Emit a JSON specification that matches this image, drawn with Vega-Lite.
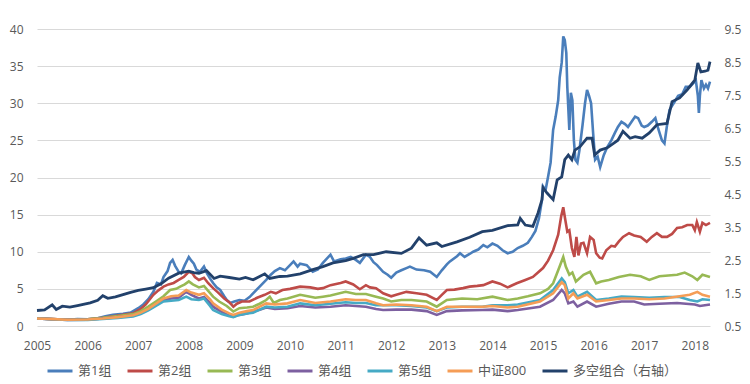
{"$schema":"https://vega.github.io/schema/vega-lite/v6.json","width":673,"height":297,"autosize":{"type":"none"},"padding":{"left":37,"top":29,"right":40,"bottom":58},"background":"white",
"config":{"view":{"stroke":null},"font":"Open Sans, Noto Sans CJK SC","axis":{"labelColor":"#595959","labelFontSize":12,"labelFontWeight":"normal","domain":false,"ticks":false,"gridColor":"#D9D9D9","gridWidth":1},"legend":{"labelColor":"#595959","labelFontSize":13}},
"data":{"values":[
{"s":"第1组","t":2005.0,"v":1.0},{"s":"第1组","t":2005.2,"v":0.95},{"s":"第1组","t":2005.4,"v":0.88},{"s":"第1组","t":2005.6,"v":0.85},{"s":"第1组","t":2005.8,"v":0.92},{"s":"第1组","t":2006.0,"v":0.9},{"s":"第1组","t":2006.2,"v":1.05},{"s":"第1组","t":2006.35,"v":1.3},{"s":"第1组","t":2006.5,"v":1.5},{"s":"第1组","t":2006.7,"v":1.65},{"s":"第1组","t":2006.85,"v":1.8},{"s":"第1组","t":2007.0,"v":2.4},{"s":"第1组","t":2007.1,"v":2.9},{"s":"第1组","t":2007.2,"v":3.6},{"s":"第1组","t":2007.3,"v":4.6},{"s":"第1组","t":2007.37,"v":5.8},{"s":"第1组","t":2007.45,"v":5.6},{"s":"第1组","t":2007.5,"v":6.6},{"s":"第1组","t":2007.58,"v":7.4},{"s":"第1组","t":2007.63,"v":8.5},{"s":"第1组","t":2007.68,"v":8.9},{"s":"第1组","t":2007.73,"v":8.1},{"s":"第1组","t":2007.8,"v":7.3},{"s":"第1组","t":2007.85,"v":7.1},{"s":"第1组","t":2007.92,"v":8.2},{"s":"第1组","t":2008.0,"v":9.3},{"s":"第1组","t":2008.05,"v":8.8},{"s":"第1组","t":2008.1,"v":8.4},{"s":"第1组","t":2008.15,"v":7.6},{"s":"第1组","t":2008.22,"v":7.3},{"s":"第1组","t":2008.3,"v":8.0},{"s":"第1组","t":2008.36,"v":7.1},{"s":"第1组","t":2008.42,"v":6.4},{"s":"第1组","t":2008.48,"v":5.8},{"s":"第1组","t":2008.55,"v":5.2},{"s":"第1组","t":2008.62,"v":4.85},{"s":"第1组","t":2008.7,"v":4.0},{"s":"第1组","t":2008.75,"v":3.5},{"s":"第1组","t":2008.82,"v":3.1},{"s":"第1组","t":2008.9,"v":3.3},{"s":"第1组","t":2009.0,"v":3.5},{"s":"第1组","t":2009.1,"v":3.4},{"s":"第1组","t":2009.2,"v":3.9},{"s":"第1组","t":2009.27,"v":4.4},{"s":"第1组","t":2009.4,"v":5.3},{"s":"第1组","t":2009.53,"v":6.2},{"s":"第1组","t":2009.62,"v":6.9},{"s":"第1组","t":2009.7,"v":7.4},{"s":"第1组","t":2009.8,"v":7.8},{"s":"第1组","t":2009.9,"v":7.5},{"s":"第1组","t":2010.0,"v":8.2},{"s":"第1组","t":2010.07,"v":8.7},{"s":"第1组","t":2010.15,"v":8.0},{"s":"第1组","t":2010.2,"v":8.4},{"s":"第1组","t":2010.33,"v":8.2},{"s":"第1组","t":2010.45,"v":7.3},{"s":"第1组","t":2010.55,"v":7.6},{"s":"第1组","t":2010.65,"v":8.5},{"s":"第1组","t":2010.8,"v":9.6},{"s":"第1组","t":2010.87,"v":8.7},{"s":"第1组","t":2011.0,"v":9.0},{"s":"第1组","t":2011.1,"v":9.1},{"s":"第1组","t":2011.2,"v":9.3},{"s":"第1组","t":2011.3,"v":8.9},{"s":"第1组","t":2011.38,"v":8.5},{"s":"第1组","t":2011.5,"v":9.6},{"s":"第1组","t":2011.58,"v":9.3},{"s":"第1组","t":2011.65,"v":8.6},{"s":"第1组","t":2011.72,"v":8.2},{"s":"第1组","t":2011.84,"v":7.3},{"s":"第1组","t":2011.93,"v":6.9},{"s":"第1组","t":2012.0,"v":6.5},{"s":"第1组","t":2012.1,"v":7.2},{"s":"第1组","t":2012.2,"v":7.5},{"s":"第1组","t":2012.3,"v":7.8},{"s":"第1组","t":2012.37,"v":8.0},{"s":"第1组","t":2012.5,"v":7.6},{"s":"第1组","t":2012.65,"v":7.5},{"s":"第1组","t":2012.77,"v":7.3},{"s":"第1组","t":2012.9,"v":6.6},{"s":"第1组","t":2013.0,"v":7.5},{"s":"第1组","t":2013.1,"v":8.3},{"s":"第1组","t":2013.16,"v":8.7},{"s":"第1组","t":2013.3,"v":9.4},{"s":"第1组","t":2013.36,"v":9.8},{"s":"第1组","t":2013.45,"v":9.3},{"s":"第1组","t":2013.55,"v":9.7},{"s":"第1组","t":2013.62,"v":10.0},{"s":"第1组","t":2013.72,"v":10.3},{"s":"第1组","t":2013.82,"v":10.9},{"s":"第1组","t":2013.9,"v":10.6},{"s":"第1组","t":2014.0,"v":11.1},{"s":"第1组","t":2014.1,"v":10.8},{"s":"第1组","t":2014.2,"v":10.2},{"s":"第1组","t":2014.3,"v":9.8},{"s":"第1组","t":2014.4,"v":10.0},{"s":"第1组","t":2014.5,"v":10.5},{"s":"第1组","t":2014.6,"v":10.8},{"s":"第1组","t":2014.7,"v":11.2},{"s":"第1组","t":2014.78,"v":12.0},{"s":"第1组","t":2014.85,"v":12.8},{"s":"第1组","t":2014.92,"v":14.5},{"s":"第1组","t":2014.98,"v":17.0},{"s":"第1组","t":2015.0,"v":18.8},{"s":"第1组","t":2015.05,"v":18.3},{"s":"第1组","t":2015.1,"v":20.1},{"s":"第1组","t":2015.15,"v":22.0},{"s":"第1组","t":2015.2,"v":26.4},{"s":"第1组","t":2015.25,"v":28.2},{"s":"第1组","t":2015.3,"v":30.4},{"s":"第1组","t":2015.33,"v":33.5},{"s":"第1组","t":2015.37,"v":35.5},{"s":"第1组","t":2015.4,"v":39.0},{"s":"第1组","t":2015.43,"v":38.5},{"s":"第1组","t":2015.46,"v":36.8},{"s":"第1组","t":2015.48,"v":32.2},{"s":"第1组","t":2015.52,"v":26.4},{"s":"第1组","t":2015.55,"v":31.4},{"s":"第1组","t":2015.58,"v":30.4},{"s":"第1组","t":2015.61,"v":25.0},{"s":"第1组","t":2015.64,"v":22.4},{"s":"第1组","t":2015.68,"v":22.0},{"s":"第1组","t":2015.72,"v":23.7},{"s":"第1组","t":2015.78,"v":27.0},{"s":"第1组","t":2015.83,"v":30.0},{"s":"第1组","t":2015.87,"v":31.8},{"s":"第1组","t":2015.91,"v":31.0},{"s":"第1组","t":2015.95,"v":30.0},{"s":"第1组","t":2015.99,"v":26.0},{"s":"第1组","t":2016.03,"v":22.4},{"s":"第1组","t":2016.08,"v":22.8},{"s":"第1组","t":2016.13,"v":21.4},{"s":"第1组","t":2016.2,"v":23.0},{"s":"第1组","t":2016.27,"v":24.1},{"s":"第1组","t":2016.35,"v":25.0},{"s":"第1组","t":2016.42,"v":26.0},{"s":"第1组","t":2016.48,"v":26.8},{"s":"第1组","t":2016.55,"v":27.5},{"s":"第1组","t":2016.62,"v":27.2},{"s":"第1组","t":2016.68,"v":26.8},{"s":"第1组","t":2016.75,"v":27.5},{"s":"第1组","t":2016.82,"v":28.2},{"s":"第1组","t":2016.88,"v":28.0},{"s":"第1组","t":2016.95,"v":27.0},{"s":"第1组","t":2017.0,"v":26.8},{"s":"第1组","t":2017.07,"v":27.0},{"s":"第1组","t":2017.15,"v":27.5},{"s":"第1组","t":2017.22,"v":28.0},{"s":"第1组","t":2017.28,"v":26.5},{"s":"第1组","t":2017.35,"v":25.0},{"s":"第1组","t":2017.4,"v":24.6},{"s":"第1组","t":2017.45,"v":27.0},{"s":"第1组","t":2017.5,"v":29.1},{"s":"第1组","t":2017.6,"v":30.2},{"s":"第1组","t":2017.67,"v":31.0},{"s":"第1组","t":2017.75,"v":31.2},{"s":"第1组","t":2017.82,"v":32.2},{"s":"第1组","t":2017.9,"v":32.2},{"s":"第1组","t":2017.97,"v":32.7},{"s":"第1组","t":2018.02,"v":33.1},{"s":"第1组","t":2018.06,"v":31.0},{"s":"第1组","t":2018.08,"v":28.7},{"s":"第1组","t":2018.1,"v":31.0},{"s":"第1组","t":2018.13,"v":33.1},{"s":"第1组","t":2018.18,"v":32.0},{"s":"第1组","t":2018.22,"v":32.5},{"s":"第1组","t":2018.26,"v":32.0},{"s":"第1组","t":2018.3,"v":32.9},
{"s":"第2组","t":2005.0,"v":1.0},{"s":"第2组","t":2005.3,"v":0.95},{"s":"第2组","t":2005.6,"v":0.85},{"s":"第2组","t":2006.0,"v":0.9},{"s":"第2组","t":2006.3,"v":1.1},{"s":"第2组","t":2006.6,"v":1.4},{"s":"第2组","t":2006.9,"v":1.7},{"s":"第2组","t":2007.05,"v":2.3},{"s":"第2组","t":2007.15,"v":2.9},{"s":"第2组","t":2007.3,"v":4.2},{"s":"第2组","t":2007.4,"v":4.8},{"s":"第2组","t":2007.5,"v":5.3},{"s":"第2组","t":2007.6,"v":5.6},{"s":"第2组","t":2007.7,"v":5.8},{"s":"第2组","t":2007.8,"v":6.2},{"s":"第2组","t":2007.9,"v":6.6},{"s":"第2组","t":2008.0,"v":7.3},{"s":"第2组","t":2008.07,"v":7.1},{"s":"第2组","t":2008.12,"v":6.6},{"s":"第2组","t":2008.2,"v":6.2},{"s":"第2组","t":2008.3,"v":6.5},{"s":"第2组","t":2008.38,"v":5.8},{"s":"第2组","t":2008.48,"v":5.1},{"s":"第2组","t":2008.58,"v":4.5},{"s":"第2组","t":2008.7,"v":3.7},{"s":"第2组","t":2008.8,"v":3.2},{"s":"第2组","t":2008.88,"v":2.6},{"s":"第2组","t":2008.95,"v":3.0},{"s":"第2组","t":2009.05,"v":3.3},{"s":"第2组","t":2009.2,"v":3.3},{"s":"第2组","t":2009.35,"v":3.8},{"s":"第2组","t":2009.5,"v":4.2},{"s":"第2组","t":2009.62,"v":4.6},{"s":"第2组","t":2009.72,"v":4.4},{"s":"第2组","t":2009.85,"v":4.85},{"s":"第2组","t":2010.0,"v":5.0},{"s":"第2组","t":2010.2,"v":5.3},{"s":"第2组","t":2010.4,"v":5.2},{"s":"第2组","t":2010.55,"v":5.0},{"s":"第2组","t":2010.65,"v":5.1},{"s":"第2组","t":2010.8,"v":5.5},{"s":"第2组","t":2011.0,"v":5.8},{"s":"第2组","t":2011.1,"v":6.0},{"s":"第2组","t":2011.25,"v":5.6},{"s":"第2组","t":2011.38,"v":4.95},{"s":"第2组","t":2011.5,"v":5.5},{"s":"第2组","t":2011.58,"v":5.2},{"s":"第2组","t":2011.7,"v":5.1},{"s":"第2组","t":2011.84,"v":4.4},{"s":"第2组","t":2012.0,"v":4.0},{"s":"第2组","t":2012.1,"v":4.2},{"s":"第2组","t":2012.3,"v":4.6},{"s":"第2组","t":2012.5,"v":4.4},{"s":"第2组","t":2012.7,"v":4.2},{"s":"第2组","t":2012.9,"v":3.5},{"s":"第2组","t":2013.0,"v":4.2},{"s":"第2组","t":2013.1,"v":4.85},{"s":"第2组","t":2013.25,"v":4.9},{"s":"第2组","t":2013.42,"v":5.1},{"s":"第2组","t":2013.55,"v":5.3},{"s":"第2组","t":2013.7,"v":5.4},{"s":"第2组","t":2013.82,"v":5.5},{"s":"第2组","t":2014.0,"v":6.0},{"s":"第2组","t":2014.15,"v":5.7},{"s":"第2组","t":2014.3,"v":5.2},{"s":"第2组","t":2014.48,"v":5.75},{"s":"第2组","t":2014.65,"v":6.2},{"s":"第2组","t":2014.8,"v":6.6},{"s":"第2组","t":2014.9,"v":7.2},{"s":"第2组","t":2015.0,"v":7.8},{"s":"第2组","t":2015.1,"v":8.8},{"s":"第2组","t":2015.2,"v":10.2},{"s":"第2组","t":2015.3,"v":12.3},{"s":"第2组","t":2015.36,"v":14.8},{"s":"第2组","t":2015.4,"v":16.0},{"s":"第2组","t":2015.44,"v":14.3},{"s":"第2组","t":2015.48,"v":12.7},{"s":"第2组","t":2015.52,"v":12.9},{"s":"第2组","t":2015.57,"v":10.5},{"s":"第2组","t":2015.62,"v":9.3},{"s":"第2组","t":2015.66,"v":12.0},{"s":"第2组","t":2015.7,"v":9.5},{"s":"第2组","t":2015.75,"v":11.1},{"s":"第2组","t":2015.8,"v":11.2},{"s":"第2组","t":2015.87,"v":9.8},{"s":"第2组","t":2015.93,"v":12.0},{"s":"第2组","t":2016.0,"v":11.6},{"s":"第2组","t":2016.05,"v":9.8},{"s":"第2组","t":2016.12,"v":9.2},{"s":"第2组","t":2016.17,"v":9.1},{"s":"第2组","t":2016.25,"v":10.2},{"s":"第2组","t":2016.35,"v":10.8},{"s":"第2组","t":2016.42,"v":10.7},{"s":"第2组","t":2016.5,"v":11.4},{"s":"第2组","t":2016.58,"v":12.0},{"s":"第2组","t":2016.7,"v":12.5},{"s":"第2组","t":2016.8,"v":12.2},{"s":"第2组","t":2016.93,"v":12.0},{"s":"第2组","t":2017.05,"v":11.35},{"s":"第2组","t":2017.15,"v":12.0},{"s":"第2组","t":2017.25,"v":12.5},{"s":"第2组","t":2017.35,"v":12.0},{"s":"第2组","t":2017.45,"v":12.0},{"s":"第2组","t":2017.55,"v":12.4},{"s":"第2组","t":2017.65,"v":13.2},{"s":"第2组","t":2017.75,"v":13.3},{"s":"第2组","t":2017.85,"v":13.6},{"s":"第2组","t":2017.95,"v":13.6},{"s":"第2组","t":2018.0,"v":12.9},{"s":"第2组","t":2018.04,"v":14.0},{"s":"第2组","t":2018.1,"v":12.7},{"s":"第2组","t":2018.15,"v":13.9},{"s":"第2组","t":2018.22,"v":13.6},{"s":"第2组","t":2018.3,"v":13.9},
{"s":"第3组","t":2005.0,"v":1.0},{"s":"第3组","t":2005.3,"v":0.95},{"s":"第3组","t":2005.6,"v":0.85},{"s":"第3组","t":2006.0,"v":0.9},{"s":"第3组","t":2006.3,"v":1.1},{"s":"第3组","t":2006.6,"v":1.35},{"s":"第3组","t":2006.9,"v":1.6},{"s":"第3组","t":2007.05,"v":2.0},{"s":"第3组","t":2007.2,"v":2.6},{"s":"第3组","t":2007.35,"v":3.3},{"s":"第3组","t":2007.5,"v":4.0},{"s":"第3组","t":2007.63,"v":4.85},{"s":"第3组","t":2007.75,"v":5.0},{"s":"第3组","t":2007.83,"v":5.3},{"s":"第3组","t":2007.92,"v":5.6},{"s":"第3组","t":2008.0,"v":6.0},{"s":"第3组","t":2008.08,"v":5.6},{"s":"第3组","t":2008.2,"v":5.2},{"s":"第3组","t":2008.3,"v":5.4},{"s":"第3组","t":2008.4,"v":4.6},{"s":"第3组","t":2008.48,"v":3.95},{"s":"第3组","t":2008.6,"v":3.3},{"s":"第3组","t":2008.75,"v":2.7},{"s":"第3组","t":2008.88,"v":1.95},{"s":"第3组","t":2009.0,"v":2.4},{"s":"第3组","t":2009.15,"v":2.5},{"s":"第3组","t":2009.27,"v":2.6},{"s":"第3组","t":2009.4,"v":3.0},{"s":"第3组","t":2009.53,"v":3.5},{"s":"第3组","t":2009.6,"v":3.95},{"s":"第3组","t":2009.68,"v":3.1},{"s":"第3组","t":2009.8,"v":3.5},{"s":"第3组","t":2009.95,"v":3.7},{"s":"第3组","t":2010.2,"v":4.2},{"s":"第3组","t":2010.35,"v":4.0},{"s":"第3组","t":2010.5,"v":3.8},{"s":"第3组","t":2010.65,"v":3.95},{"s":"第3组","t":2010.8,"v":4.1},{"s":"第3组","t":2011.1,"v":4.6},{"s":"第3组","t":2011.3,"v":4.3},{"s":"第3组","t":2011.5,"v":4.3},{"s":"第3组","t":2011.7,"v":3.95},{"s":"第3组","t":2011.84,"v":3.7},{"s":"第3组","t":2012.0,"v":3.3},{"s":"第3组","t":2012.2,"v":3.5},{"s":"第3组","t":2012.4,"v":3.5},{"s":"第3组","t":2012.7,"v":3.3},{"s":"第3组","t":2012.9,"v":2.6},{"s":"第3组","t":2013.1,"v":3.5},{"s":"第3组","t":2013.4,"v":3.7},{"s":"第3组","t":2013.7,"v":3.6},{"s":"第3组","t":2014.0,"v":3.95},{"s":"第3组","t":2014.3,"v":3.5},{"s":"第3组","t":2014.5,"v":3.7},{"s":"第3组","t":2014.7,"v":4.0},{"s":"第3组","t":2014.94,"v":4.4},{"s":"第3组","t":2015.1,"v":5.0},{"s":"第3组","t":2015.2,"v":5.75},{"s":"第3组","t":2015.3,"v":7.5},{"s":"第3组","t":2015.4,"v":9.3},{"s":"第3组","t":2015.45,"v":8.0},{"s":"第3组","t":2015.52,"v":6.9},{"s":"第3组","t":2015.58,"v":7.2},{"s":"第3组","t":2015.65,"v":6.0},{"s":"第3组","t":2015.8,"v":6.9},{"s":"第3组","t":2015.93,"v":7.3},{"s":"第3组","t":2016.05,"v":5.75},{"s":"第3组","t":2016.15,"v":6.0},{"s":"第3组","t":2016.3,"v":6.2},{"s":"第3组","t":2016.5,"v":6.6},{"s":"第3组","t":2016.72,"v":6.9},{"s":"第3组","t":2016.93,"v":6.7},{"s":"第3组","t":2017.1,"v":6.2},{"s":"第3组","t":2017.3,"v":6.7},{"s":"第3组","t":2017.65,"v":6.9},{"s":"第3组","t":2017.8,"v":7.2},{"s":"第3组","t":2017.95,"v":6.7},{"s":"第3组","t":2018.05,"v":6.2},{"s":"第3组","t":2018.15,"v":6.9},{"s":"第3组","t":2018.3,"v":6.6},
{"s":"第4组","t":2005.0,"v":1.0},{"s":"第4组","t":2005.3,"v":0.92},{"s":"第4组","t":2005.6,"v":0.82},{"s":"第4组","t":2006.0,"v":0.85},{"s":"第4组","t":2006.3,"v":1.0},{"s":"第4组","t":2006.6,"v":1.2},{"s":"第4组","t":2006.9,"v":1.4},{"s":"第4组","t":2007.05,"v":1.7},{"s":"第4组","t":2007.2,"v":2.2},{"s":"第4组","t":2007.35,"v":2.8},{"s":"第4组","t":2007.5,"v":3.5},{"s":"第4组","t":2007.65,"v":3.7},{"s":"第4组","t":2007.8,"v":3.8},{"s":"第4组","t":2007.95,"v":4.6},{"s":"第4组","t":2008.05,"v":4.2},{"s":"第4组","t":2008.2,"v":3.7},{"s":"第4组","t":2008.3,"v":3.9},{"s":"第4组","t":2008.42,"v":3.1},{"s":"第4组","t":2008.48,"v":2.6},{"s":"第4组","t":2008.65,"v":1.9},{"s":"第4组","t":2008.8,"v":1.4},{"s":"第4组","t":2008.88,"v":1.25},{"s":"第4组","t":2009.0,"v":1.5},{"s":"第4组","t":2009.15,"v":1.7},{"s":"第4组","t":2009.27,"v":1.95},{"s":"第4组","t":2009.4,"v":2.2},{"s":"第4组","t":2009.53,"v":2.5},{"s":"第4组","t":2009.7,"v":2.3},{"s":"第4组","t":2009.95,"v":2.4},{"s":"第4组","t":2010.2,"v":2.7},{"s":"第4组","t":2010.5,"v":2.5},{"s":"第4组","t":2010.8,"v":2.6},{"s":"第4组","t":2011.1,"v":2.8},{"s":"第4组","t":2011.3,"v":2.7},{"s":"第4组","t":2011.5,"v":2.6},{"s":"第4组","t":2011.7,"v":2.3},{"s":"第4组","t":2011.84,"v":2.15},{"s":"第4组","t":2012.1,"v":2.2},{"s":"第4组","t":2012.4,"v":2.2},{"s":"第4组","t":2012.7,"v":2.0},{"s":"第4组","t":2012.9,"v":1.5},{"s":"第4组","t":2013.1,"v":2.0},{"s":"第4组","t":2013.4,"v":2.1},{"s":"第4组","t":2013.8,"v":2.15},{"s":"第4组","t":2014.0,"v":2.2},{"s":"第4组","t":2014.3,"v":2.0},{"s":"第4组","t":2014.5,"v":2.15},{"s":"第4组","t":2014.94,"v":2.6},{"s":"第4组","t":2015.2,"v":3.5},{"s":"第4组","t":2015.37,"v":4.85},{"s":"第4组","t":2015.43,"v":4.4},{"s":"第4组","t":2015.5,"v":3.05},{"s":"第4组","t":2015.6,"v":3.3},{"s":"第4组","t":2015.68,"v":2.6},{"s":"第4组","t":2015.87,"v":3.3},{"s":"第4组","t":2016.05,"v":2.6},{"s":"第4组","t":2016.3,"v":3.0},{"s":"第4组","t":2016.55,"v":3.3},{"s":"第4组","t":2016.8,"v":3.3},{"s":"第4组","t":2017.0,"v":2.9},{"s":"第4组","t":2017.3,"v":3.0},{"s":"第4组","t":2017.65,"v":3.1},{"s":"第4组","t":2018.0,"v":2.9},{"s":"第4组","t":2018.1,"v":2.7},{"s":"第4组","t":2018.3,"v":2.9},
{"s":"第5组","t":2005.0,"v":1.0},{"s":"第5组","t":2005.3,"v":0.9},{"s":"第5组","t":2005.6,"v":0.8},{"s":"第5组","t":2006.0,"v":0.82},{"s":"第5组","t":2006.3,"v":0.95},{"s":"第5组","t":2006.6,"v":1.1},{"s":"第5组","t":2006.9,"v":1.3},{"s":"第5组","t":2007.05,"v":1.6},{"s":"第5组","t":2007.2,"v":2.1},{"s":"第5组","t":2007.35,"v":2.7},{"s":"第5组","t":2007.5,"v":3.3},{"s":"第5组","t":2007.65,"v":3.4},{"s":"第5组","t":2007.8,"v":3.5},{"s":"第5组","t":2007.95,"v":3.95},{"s":"第5组","t":2008.05,"v":3.6},{"s":"第5组","t":2008.2,"v":3.5},{"s":"第5组","t":2008.3,"v":3.7},{"s":"第5组","t":2008.42,"v":2.7},{"s":"第5组","t":2008.48,"v":2.15},{"s":"第5组","t":2008.65,"v":1.6},{"s":"第5组","t":2008.8,"v":1.3},{"s":"第5组","t":2008.88,"v":1.2},{"s":"第5组","t":2009.0,"v":1.5},{"s":"第5组","t":2009.15,"v":1.7},{"s":"第5组","t":2009.27,"v":1.8},{"s":"第5组","t":2009.4,"v":2.2},{"s":"第5组","t":2009.53,"v":2.6},{"s":"第5组","t":2009.7,"v":2.5},{"s":"第5组","t":2009.95,"v":2.6},{"s":"第5组","t":2010.2,"v":3.05},{"s":"第5组","t":2010.5,"v":2.8},{"s":"第5组","t":2010.8,"v":3.0},{"s":"第5组","t":2011.1,"v":3.2},{"s":"第5组","t":2011.3,"v":3.1},{"s":"第5组","t":2011.5,"v":3.1},{"s":"第5组","t":2011.7,"v":2.8},{"s":"第5组","t":2011.84,"v":2.8},{"s":"第5组","t":2012.1,"v":2.8},{"s":"第5组","t":2012.4,"v":2.7},{"s":"第5组","t":2012.7,"v":2.5},{"s":"第5组","t":2012.9,"v":2.0},{"s":"第5组","t":2013.1,"v":2.5},{"s":"第5组","t":2013.4,"v":2.6},{"s":"第5组","t":2013.8,"v":2.6},{"s":"第5组","t":2014.0,"v":2.8},{"s":"第5组","t":2014.3,"v":2.8},{"s":"第5组","t":2014.5,"v":2.9},{"s":"第5组","t":2014.94,"v":3.5},{"s":"第5组","t":2015.2,"v":4.85},{"s":"第5组","t":2015.37,"v":6.4},{"s":"第5组","t":2015.43,"v":5.9},{"s":"第5组","t":2015.5,"v":4.4},{"s":"第5组","t":2015.6,"v":4.85},{"s":"第5组","t":2015.68,"v":3.95},{"s":"第5组","t":2015.87,"v":4.6},{"s":"第5组","t":2016.05,"v":3.5},{"s":"第5组","t":2016.3,"v":3.7},{"s":"第5组","t":2016.55,"v":3.95},{"s":"第5组","t":2016.8,"v":3.9},{"s":"第5组","t":2017.1,"v":3.8},{"s":"第5组","t":2017.4,"v":3.9},{"s":"第5组","t":2017.7,"v":3.9},{"s":"第5组","t":2017.9,"v":3.5},{"s":"第5组","t":2018.05,"v":3.3},{"s":"第5组","t":2018.15,"v":3.6},{"s":"第5组","t":2018.3,"v":3.5},
{"s":"中证800","t":2005.0,"v":1.0},{"s":"中证800","t":2005.3,"v":0.92},{"s":"中证800","t":2005.6,"v":0.85},{"s":"中证800","t":2006.0,"v":0.88},{"s":"中证800","t":2006.3,"v":1.0},{"s":"中证800","t":2006.6,"v":1.2},{"s":"中证800","t":2006.9,"v":1.45},{"s":"中证800","t":2007.05,"v":1.8},{"s":"中证800","t":2007.2,"v":2.3},{"s":"中证800","t":2007.35,"v":3.0},{"s":"中证800","t":2007.5,"v":3.7},{"s":"中证800","t":2007.65,"v":4.0},{"s":"中证800","t":2007.8,"v":4.1},{"s":"中证800","t":2007.95,"v":4.85},{"s":"中证800","t":2008.05,"v":4.5},{"s":"中证800","t":2008.2,"v":4.2},{"s":"中证800","t":2008.3,"v":4.4},{"s":"中证800","t":2008.42,"v":3.6},{"s":"中证800","t":2008.48,"v":3.05},{"s":"中证800","t":2008.65,"v":2.2},{"s":"中证800","t":2008.8,"v":1.7},{"s":"中证800","t":2008.88,"v":1.5},{"s":"中证800","t":2009.0,"v":1.8},{"s":"中证800","t":2009.15,"v":2.0},{"s":"中证800","t":2009.27,"v":2.15},{"s":"中证800","t":2009.4,"v":2.6},{"s":"中证800","t":2009.53,"v":3.05},{"s":"中证800","t":2009.7,"v":2.9},{"s":"中证800","t":2009.95,"v":3.05},{"s":"中证800","t":2010.2,"v":3.5},{"s":"中证800","t":2010.5,"v":3.1},{"s":"中证800","t":2010.8,"v":3.3},{"s":"中证800","t":2011.1,"v":3.6},{"s":"中证800","t":2011.3,"v":3.5},{"s":"中证800","t":2011.5,"v":3.5},{"s":"中证800","t":2011.7,"v":3.05},{"s":"中证800","t":2011.84,"v":2.8},{"s":"中证800","t":2012.1,"v":2.9},{"s":"中证800","t":2012.4,"v":2.8},{"s":"中证800","t":2012.7,"v":2.6},{"s":"中证800","t":2012.9,"v":2.0},{"s":"中证800","t":2013.1,"v":2.6},{"s":"中证800","t":2013.4,"v":2.6},{"s":"中证800","t":2013.8,"v":2.6},{"s":"中证800","t":2014.0,"v":2.7},{"s":"中证800","t":2014.3,"v":2.5},{"s":"中证800","t":2014.5,"v":2.6},{"s":"中证800","t":2014.94,"v":3.3},{"s":"中证800","t":2015.2,"v":4.4},{"s":"中证800","t":2015.37,"v":5.9},{"s":"中证800","t":2015.43,"v":5.5},{"s":"中证800","t":2015.5,"v":3.7},{"s":"中证800","t":2015.6,"v":4.4},{"s":"中证800","t":2015.68,"v":3.7},{"s":"中证800","t":2015.87,"v":4.2},{"s":"中证800","t":2016.05,"v":3.3},{"s":"中证800","t":2016.3,"v":3.5},{"s":"中证800","t":2016.55,"v":3.7},{"s":"中证800","t":2016.8,"v":3.7},{"s":"中证800","t":2017.1,"v":3.6},{"s":"中证800","t":2017.4,"v":3.7},{"s":"中证800","t":2017.7,"v":4.0},{"s":"中证800","t":2017.9,"v":4.2},{"s":"中证800","t":2018.05,"v":4.6},{"s":"中证800","t":2018.15,"v":4.2},{"s":"中证800","t":2018.3,"v":3.95},
{"s":"多空组合（右轴）","t":2005.0,"v":0.97},{"s":"多空组合（右轴）","t":2005.15,"v":0.99},{"s":"多空组合（右轴）","t":2005.3,"v":1.14},{"s":"多空组合（右轴）","t":2005.38,"v":1.0},{"s":"多空组合（右轴）","t":2005.5,"v":1.1},{"s":"多空组合（右轴）","t":2005.65,"v":1.07},{"s":"多空组合（右轴）","t":2005.8,"v":1.12},{"s":"多空组合（右轴）","t":2006.05,"v":1.2},{"s":"多空组合（右轴）","t":2006.2,"v":1.28},{"s":"多空组合（右轴）","t":2006.3,"v":1.42},{"s":"多空组合（右轴）","t":2006.4,"v":1.34},{"s":"多空组合（右轴）","t":2006.55,"v":1.38},{"s":"多空组合（右轴）","t":2006.7,"v":1.45},{"s":"多空组合（右轴）","t":2006.85,"v":1.52},{"s":"多空组合（右轴）","t":2007.0,"v":1.58},{"s":"多空组合（右轴）","t":2007.15,"v":1.62},{"s":"多空组合（右轴）","t":2007.3,"v":1.66},{"s":"多空组合（右轴）","t":2007.45,"v":1.78},{"s":"多空组合（右轴）","t":2007.6,"v":1.95},{"s":"多空组合（右轴）","t":2007.8,"v":2.1},{"s":"多空组合（右轴）","t":2008.0,"v":2.16},{"s":"多空组合（右轴）","t":2008.1,"v":2.12},{"s":"多空组合（右轴）","t":2008.2,"v":2.1},{"s":"多空组合（右轴）","t":2008.35,"v":2.18},{"s":"多空组合（右轴）","t":2008.5,"v":1.94},{"s":"多空组合（右轴）","t":2008.62,"v":2.01},{"s":"多空组合（右轴）","t":2008.8,"v":1.97},{"s":"多空组合（右轴）","t":2009.0,"v":1.92},{"s":"多空组合（右轴）","t":2009.12,"v":1.97},{"s":"多空组合（右轴）","t":2009.27,"v":1.9},{"s":"多空组合（右轴）","t":2009.5,"v":2.08},{"s":"多空组合（右轴）","t":2009.6,"v":1.94},{"s":"多空组合（右轴）","t":2009.8,"v":2.0},{"s":"多空组合（右轴）","t":2009.95,"v":2.01},{"s":"多空组合（右轴）","t":2010.2,"v":2.08},{"s":"多空组合（右轴）","t":2010.45,"v":2.21},{"s":"多空组合（右轴）","t":2010.65,"v":2.3},{"s":"多空组合（右轴）","t":2010.85,"v":2.41},{"s":"多空组合（右轴）","t":2011.1,"v":2.48},{"s":"多空组合（右轴）","t":2011.25,"v":2.55},{"s":"多空组合（右轴）","t":2011.45,"v":2.66},{"s":"多空组合（右轴）","t":2011.65,"v":2.66},{"s":"多空组合（右轴）","t":2011.9,"v":2.75},{"s":"多空组合（右轴）","t":2012.2,"v":2.7},{"s":"多空组合（右轴）","t":2012.4,"v":2.86},{"s":"多空组合（右轴）","t":2012.55,"v":3.17},{"s":"多空组合（右轴）","t":2012.7,"v":2.95},{"s":"多空组合（右轴）","t":2012.9,"v":3.02},{"s":"多空组合（右轴）","t":2013.0,"v":2.91},{"s":"多空组合（右轴）","t":2013.3,"v":3.05},{"s":"多空组合（右轴）","t":2013.55,"v":3.19},{"s":"多空组合（右轴）","t":2013.8,"v":3.36},{"s":"多空组合（右轴）","t":2014.0,"v":3.4},{"s":"多空组合（右轴）","t":2014.3,"v":3.54},{"s":"多空组合（右轴）","t":2014.5,"v":3.56},{"s":"多空组合（右轴）","t":2014.55,"v":3.76},{"s":"多空组合（右轴）","t":2014.65,"v":3.56},{"s":"多空组合（右轴）","t":2014.8,"v":3.52},{"s":"多空组合（右轴）","t":2014.9,"v":3.92},{"s":"多空组合（右轴）","t":2014.98,"v":4.33},{"s":"多空组合（右轴）","t":2015.0,"v":4.69},{"s":"多空组合（右轴）","t":2015.08,"v":4.53},{"s":"多空组合（右轴）","t":2015.2,"v":4.33},{"s":"多空组合（右轴）","t":2015.28,"v":4.93},{"s":"多空组合（右轴）","t":2015.37,"v":5.02},{"s":"多空组合（右轴）","t":2015.43,"v":5.54},{"s":"多空组合（右轴）","t":2015.5,"v":5.68},{"s":"多空组合（右轴）","t":2015.57,"v":5.54},{"s":"多空组合（右轴）","t":2015.63,"v":5.83},{"s":"多空组合（右轴）","t":2015.73,"v":5.93},{"s":"多空组合（右轴）","t":2015.87,"v":6.19},{"s":"多空组合（右轴）","t":2015.97,"v":6.19},{"s":"多空组合（右轴）","t":2016.02,"v":5.68},{"s":"多空组合（右轴）","t":2016.13,"v":5.83},{"s":"多空组合（右轴）","t":2016.27,"v":5.9},{"s":"多空组合（右轴）","t":2016.4,"v":6.04},{"s":"多空组合（右轴）","t":2016.48,"v":6.13},{"s":"多空组合（右轴）","t":2016.58,"v":6.4},{"s":"多空组合（右轴）","t":2016.72,"v":6.19},{"s":"多空组合（右轴）","t":2016.82,"v":6.24},{"s":"多空组合（右轴）","t":2016.96,"v":6.19},{"s":"多空组合（右轴）","t":2017.1,"v":6.35},{"s":"多空组合（右轴）","t":2017.25,"v":6.6},{"s":"多空组合（右轴）","t":2017.45,"v":6.64},{"s":"多空组合（右轴）","t":2017.55,"v":7.3},{"s":"多空组合（右轴）","t":2017.7,"v":7.41},{"s":"多空组合（右轴）","t":2017.85,"v":7.66},{"s":"多空组合（右轴）","t":2018.0,"v":7.95},{"s":"多空组合（右轴）","t":2018.06,"v":8.47},{"s":"多空组合（右轴）","t":2018.12,"v":8.2},{"s":"多空组合（右轴）","t":2018.2,"v":8.22},{"s":"多空组合（右轴）","t":2018.26,"v":8.25},{"s":"多空组合（右轴）","t":2018.3,"v":8.51}
]},
"encoding":{
"x":{"field":"t","type":"quantitative","scale":{"domain":[2005,2018.3],"nice":false,"zero":false},"axis":{"values":[2005,2006,2007,2008,2009,2010,2011,2012,2013,2014,2015,2016,2017,2018],"format":"d","title":null,"grid":false,"labelPadding":14,"labelFlush":false}},
"color":{"field":"s","type":"nominal","scale":{"domain":["第1组","第2组","第3组","第4组","第5组","中证800","多空组合（右轴）"],"range":["#4A7EBB","#BE4B48","#98B954","#7D60A0","#46AAC5","#F59D56","#22416B"]},"legend":{"title":null,"orient":"none","legendX":9,"legendY":328,"direction":"horizontal","columns":7,"symbolType":"stroke","symbolSize":625,"symbolStrokeWidth":3,"labelOffset":4,"columnPadding":9}}
},
"layer":[
{"transform":[{"filter":"datum.s !== '多空组合（右轴）'"}],"mark":{"type":"line","strokeWidth":2.6},"encoding":{"y":{"field":"v","type":"quantitative","scale":{"domain":[0,40],"nice":false},"axis":{"values":[0,5,10,15,20,25,30,35,40],"title":null,"labelPadding":14}}}},
{"transform":[{"filter":"datum.s === '多空组合（右轴）'"}],"mark":{"type":"line","strokeWidth":2.8},"encoding":{"y":{"field":"v","type":"quantitative","scale":{"domain":[0.5,9.5],"nice":false,"zero":false},"axis":{"orient":"right","values":[0.5,1.5,2.5,3.5,4.5,5.5,6.5,7.5,8.5,9.5],"format":".1f","grid":false,"title":null,"labelPadding":14}}}}
],
"resolve":{"scale":{"y":"independent"}}
}
